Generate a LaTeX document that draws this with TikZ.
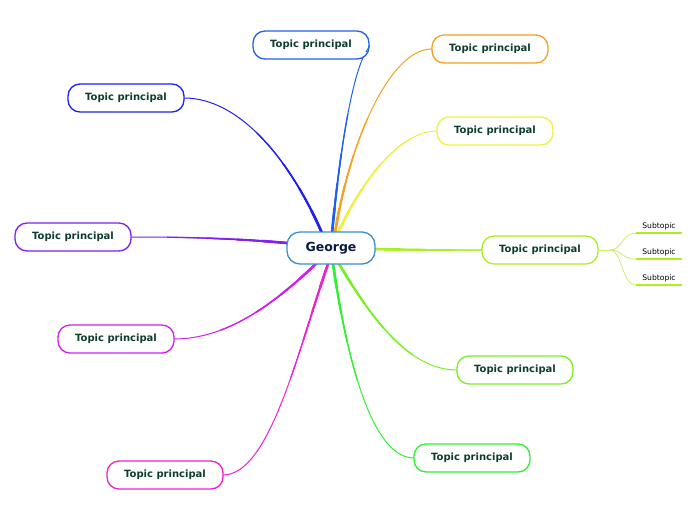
\documentclass[tikz,border=0pt]{standalone}
\usepackage{fontspec}
\setmainfont{DejaVu Sans}
\begin{document}
\begin{tikzpicture}[x=1pt,y=-1pt,
  topic/.style={draw=#1, fill=white, line width=1.3pt, rounded corners=12pt,
    minimum width=116pt, minimum height=28pt, inner sep=0pt,
    font=\bfseries\fontsize{10}{11}\selectfont, text=tcol},
  link/.style={draw=#1, line width=1pt, line cap=round,
    preaction={draw=#1, line width=1.3pt, dash pattern=on 120pt off 2000pt},
    preaction={draw=#1, line width=1.7pt, dash pattern=on 80pt off 2000pt},
    preaction={draw=#1, line width=2.1pt, dash pattern=on 50pt off 2000pt},
    preaction={draw=#1, line width=2.6pt, dash pattern=on 25pt off 2000pt}},
  subt/.style={minimum width=46pt, minimum height=14pt, inner sep=0pt,
    font=\fontsize{7.6}{9}\selectfont, text=black},
  subline/.style={draw=limec, line width=2pt},
  sublink/.style={draw=sublc, line width=0.8pt}]
\definecolor{tcol}{HTML}{0F3D2C}
\definecolor{gcol}{HTML}{0A1A40}
\definecolor{gbord}{HTML}{3A8FD0}
\definecolor{c1}{HTML}{2060F0}
\definecolor{c2}{HTML}{F8A020}
\definecolor{c3}{HTML}{F0F040}
\definecolor{limec}{HTML}{A8F020}
\definecolor{sublc}{HTML}{C8F070}
\definecolor{c5}{HTML}{78F028}
\definecolor{c6}{HTML}{30F030}
\definecolor{c7}{HTML}{F020D0}
\definecolor{c8}{HTML}{D020F0}
\definecolor{c9}{HTML}{8020F0}
\definecolor{c10}{HTML}{2020F0}
\useasboundingbox[fill=white] (0,0) rectangle (696,520);

% anchors on the central node
\coordinate (o1) at (332,233);
\coordinate (o2) at (335,233);
\coordinate (o3) at (338,233);
\coordinate (o4) at (375,249);
\coordinate (o5) at (338,262);
\coordinate (o6) at (333,264);
\coordinate (o7) at (328,264);
\coordinate (o8) at (318,262);
\coordinate (o9) at (287,243);
\coordinate (o10) at (322,233);
\coordinate (h1) at (366,52);

% connectors
\draw[link=c1] (o1) .. controls (340,150) and (352,75) .. (h1);
\draw[link=c2] (o2) .. controls (350,140) and (390,49) .. (432,49);
\draw[link=c3] (o3) .. controls (362,180) and (400,131) .. (437,131);
\draw[link=limec] (o4) .. controls (420,250) and (440,250) .. (482,250);
\draw[link=c5] (o5) .. controls (372,320) and (410,370) .. (457,370);
\draw[link=c6] (o6) .. controls (347,360) and (372,458) .. (414,458);
\draw[link=c7] (o7) .. controls (298,350) and (270,475) .. (223,475);
\draw[link=c8] (o8) .. controls (278,300) and (230,339) .. (174,339);
\draw[link=c9] (o9) .. controls (230,238) and (180,237) .. (131,237);
\draw[link=c10] (o10) .. controls (290,160) and (240,98) .. (184,98);

% topic nodes
\node[topic=c1] (t1) at (311,45) {Topic principal};
\node[topic=c2] (t2) at (490,49) {Topic principal};
\node[topic=c3] (t3) at (495,131) {Topic principal};
\node[topic=limec] (t4) at (540,250) {Topic principal};
\node[topic=c5] (t5) at (515,370) {Topic principal};
\node[topic=c6] (t6) at (472,458) {Topic principal};
\node[topic=c7] (t7) at (165,475) {Topic principal};
\node[topic=c8] (t8) at (116,339) {Topic principal};
\node[topic=c9] (t9) at (73,237) {Topic principal};
\node[topic=c10] (t10) at (126,98) {Topic principal};
\draw[c1, line width=1pt] (h1) .. controls (368,49) and (369,47) .. (t1.east);

% central node
\node[draw=gbord, fill=white, line width=1.3pt, rounded corners=13pt,
  minimum width=88pt, minimum height=32pt, inner sep=0pt,
  font=\bfseries\fontsize{12.5}{14}\selectfont, text=gcol] (g) at (331,248) {George};

% subtopics
\node[subt] (s1) at (659,226) {Subtopic};
\node[subt] (s2) at (659,252) {Subtopic};
\node[subt] (s3) at (659,278) {Subtopic};
\draw[subline] (s1.south west) -- (s1.south east);
\draw[subline] (s2.south west) -- (s2.south east);
\draw[subline] (s3.south west) -- (s3.south east);
\coordinate (sj) at (610,250);
\draw[sublink] (t4.east) -- (sj);
\draw[sublink] (sj) .. controls (622,250) and (622,233) .. (s1.south west);
\draw[sublink] (sj) .. controls (622,250) and (622,259) .. (s2.south west);
\draw[sublink] (sj) .. controls (622,250) and (622,285) .. (s3.south west);
\end{tikzpicture}
\end{document}
